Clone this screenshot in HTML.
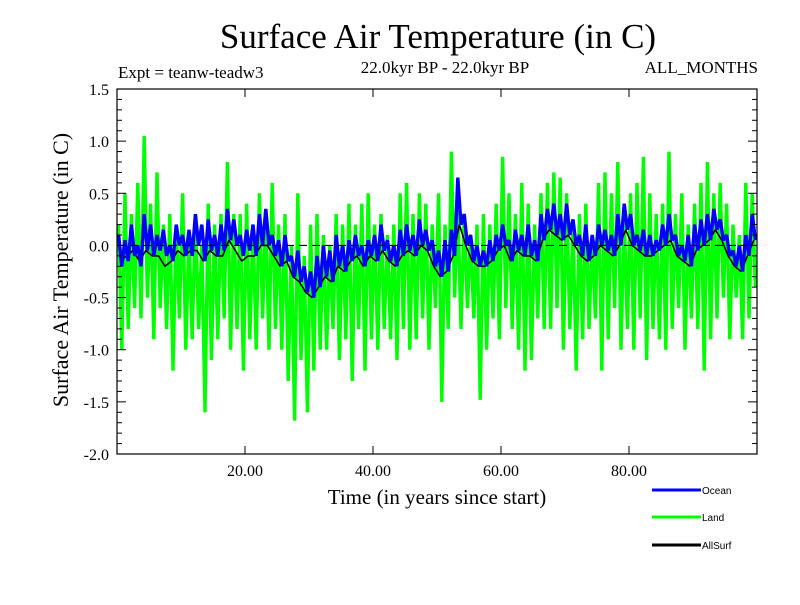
<!DOCTYPE html>
<html><head><meta charset="utf-8"><style>
body{margin:0;background:#fff}
svg text{font-family:"Liberation Serif",serif}
</style></head><body>
<svg id="chart" width="800" height="600" xmlns="http://www.w3.org/2000/svg">
<rect width="800" height="600" fill="#fff"/>
<text x="438" y="48" font-size="35" text-anchor="middle">Surface Air Temperature (in C)</text>
<text x="118" y="78" font-size="17">Expt = teanw-teadw3</text>
<text x="445" y="73" font-size="17" text-anchor="middle">22.0kyr BP - 22.0kyr BP</text>
<text x="758" y="73" font-size="17" text-anchor="end">ALL_MONTHS</text>
<g id="plot"></g>
<g id="axes"></g>
<text transform="translate(68,270) rotate(-90)" font-size="22" text-anchor="middle">Surface Air Temperature (in C)</text>
<text x="437" y="504" font-size="21" text-anchor="middle">Time (in years since start)</text>
<g>
<g><line x1="652" y1="490" x2="701" y2="490" stroke="#0000ff" stroke-width="3"/><text x="702" y="494" font-size="10" style="font-family:'Liberation Sans',sans-serif">Ocean</text></g>
<g><line x1="652" y1="517" x2="701" y2="517" stroke="#00ff00" stroke-width="3"/><text x="702" y="521" font-size="10" style="font-family:'Liberation Sans',sans-serif">Land</text></g>
<g><line x1="652" y1="545" x2="701" y2="545" stroke="#000" stroke-width="3"/><text x="702" y="549" font-size="10" style="font-family:'Liberation Sans',sans-serif">AllSurf</text></g>
</g>
</svg>
<script>
const yTickLabels=["1.5","1.0","0.5","0.0","-0.5","-1.0","-1.5","-2.0"];
const yTickValues=[1.5,1.0,0.5,0.0,-0.5,-1.0,-1.5,-2.0];
const xTickValues=[20,40,60,80];
const xTickLabels=["20.00","40.00","60.00","80.00"];
const land=[0.2,-1.0,0.5,-0.8,0.3,-0.6,0.6,-0.7,1.05,-0.5,0.4,-0.9,0.7,-0.6,0.2,-0.8,0.3,-1.2,0.2,-0.7,
0.5,-1.0,0.1,-0.9,0.3,-0.8,0.0,-1.6,0.4,-1.1,0.2,-0.9,0.3,-0.7,0.8,-1.0,0.3,-0.8,0.3,-1.2,
0.4,-0.9,0.2,-1.0,0.5,-0.7,0.3,-1.0,0.6,-0.8,0.2,-1.0,0.3,-1.3,0.0,-1.68,0.5,-1.1,-0.1,-1.6,
0.2,-1.2,0.3,-1.0,0.1,-1.0,0.0,-0.8,0.3,-1.1,0.2,-0.9,0.4,-1.3,0.2,-0.8,0.4,-1.2,0.5,-0.9,
0.2,-1.0,0.3,-0.8,0.1,-0.9,0.2,-1.1,0.5,-0.8,0.6,-1.0,0.3,-0.9,0.5,-0.7,0.4,-1.0,0.2,-0.6,
0.5,-1.5,0.2,-0.8,0.9,-0.5,0.4,-0.8,0.3,-0.6,0.1,-0.7,0.2,-1.48,0.3,-1.0,0.2,-0.7,0.4,-0.9,
0.85,-0.6,0.5,-0.8,0.3,-1.0,0.6,-1.2,0.4,-1.1,0.2,-0.7,0.5,-0.8,0.6,-0.8,0.7,-0.6,0.65,-1.0,
0.5,-0.8,0.2,-1.2,0.3,-0.9,0.4,-0.8,0.1,-0.7,0.6,-1.2,0.7,-0.9,0.5,-0.6,0.8,-1.0,0.3,-0.8,
0.5,-1.0,0.6,-0.7,0.85,-1.1,0.5,-0.8,0.3,-0.9,0.4,-1.0,0.9,-0.8,0.3,-0.6,0.5,-1.0,0.2,-0.7,
0.4,-0.8,0.6,-1.2,0.8,-0.9,0.5,-0.7,0.6,-0.5,0.4,-0.9,0.2,-0.5,0.1,-0.9,0.6,-0.7,0.5,-0.4];
const ocean=[0.1,-0.2,0.05,-0.15,0.2,-0.1,0.0,-0.2,0.3,-0.05,0.2,-0.1,0.1,-0.05,0.15,-0.1,0.0,-0.15,0.2,0.0,
0.1,-0.1,0.15,-0.1,0.3,0.0,0.2,-0.15,0.25,-0.05,0.1,-0.1,0.2,-0.05,0.35,0.05,0.25,0.0,0.1,-0.1,
0.15,-0.05,0.2,-0.1,0.3,0.0,0.35,0.0,0.1,-0.1,0.05,-0.2,0.1,-0.15,-0.1,-0.3,-0.05,-0.35,-0.2,-0.45,
-0.25,-0.5,-0.1,-0.4,0.0,-0.3,-0.05,-0.35,0.1,-0.2,0.0,-0.25,0.05,-0.15,0.1,-0.1,0.0,-0.2,0.05,-0.1,
0.1,-0.15,0.2,-0.05,0.05,-0.15,0.0,-0.2,0.15,-0.1,0.2,-0.05,0.1,-0.1,0.25,0.0,0.15,-0.05,0.05,-0.2,
-0.05,-0.3,0.05,-0.25,0.15,-0.1,0.65,0.2,0.3,0.0,0.1,-0.15,0.0,-0.2,-0.05,-0.2,0.05,-0.15,0.1,-0.05,
0.2,0.0,0.05,-0.15,0.15,-0.05,0.1,-0.1,0.2,-0.1,0.05,-0.15,0.3,0.05,0.35,0.15,0.4,0.1,0.3,0.05,
0.4,0.1,0.25,0.0,0.1,-0.1,0.2,-0.15,0.1,-0.1,0.2,0.0,0.15,-0.05,0.1,-0.1,0.3,0.0,0.4,0.15,
0.3,0.0,0.1,-0.05,0.15,-0.1,0.1,-0.1,0.05,-0.05,0.2,0.0,0.3,0.05,0.1,-0.1,0.0,-0.15,0.1,-0.2,
0.2,-0.05,0.25,0.0,0.3,0.05,0.35,0.15,0.25,0.05,0.1,-0.1,-0.05,-0.2,0.0,-0.25,0.1,-0.1,0.3,0.05];
const allsurf=[-0.15,-0.1,-0.05,-0.15,-0.05,-0.1,-0.1,-0.2,-0.15,-0.05,-0.1,-0.05,-0.05,-0.15,-0.05,-0.1,-0.1,0.05,-0.05,-0.15,
-0.1,-0.1,0.0,0.0,-0.1,-0.2,-0.15,-0.3,-0.35,-0.45,-0.5,-0.4,-0.3,-0.35,-0.2,-0.25,-0.15,-0.1,-0.2,-0.1,
-0.15,-0.05,-0.15,-0.2,-0.1,-0.05,-0.1,0.0,-0.05,-0.2,-0.3,-0.25,-0.1,0.2,0.0,-0.15,-0.2,-0.2,-0.15,-0.05,
0.0,-0.15,-0.05,-0.1,-0.1,-0.15,0.05,0.15,0.1,0.05,0.1,0.0,-0.1,-0.15,-0.1,0.0,-0.05,-0.1,0.0,0.15,
0.0,-0.05,-0.1,-0.1,-0.05,0.0,0.05,-0.1,-0.15,-0.2,-0.05,0.0,0.05,0.15,0.05,-0.1,-0.2,-0.25,-0.1,0.05];
const NS='http://www.w3.org/2000/svg';
const X0=117,X1=757,Y0=89,Y1=454,XMIN=0,XMAX=100,YMIN=-2,YMAX=1.5;
const xs=v=>X0+(v-XMIN)/(XMAX-XMIN)*(X1-X0);
const ys=v=>Y1-(v-YMIN)/(YMAX-YMIN)*(Y1-Y0);
const plot=document.getElementById('plot'),axes=document.getElementById('axes');
function mk(tag,attrs,parent){const e=document.createElementNS(NS,tag);for(const k in attrs)e.setAttribute(k,attrs[k]);parent.appendChild(e);return e;}
function series(arr,color,w,name){
  const step=(XMAX-XMIN)/arr.length;
  const pts=arr.map((v,i)=>xs(XMIN+(i+0.5)*step).toFixed(1)+','+ys(v).toFixed(1)).join(' ');
  const p=mk('polyline',{points:pts,fill:'none',stroke:color,'stroke-width':w,'stroke-linejoin':'bevel'},plot);
  
  
}
series(land,'#00ff00',3.4,'land-series');
series(allsurf,'#000000',1.6,'allsurf-series');
series(ocean,'#0000ff',3.4,'ocean-series');
const zl=mk('line',{x1:X0,x2:X1,y1:ys(0),y2:ys(0),stroke:'#000','stroke-width':1.2,'stroke-dasharray':'8,5'},plot);


const frame=mk('rect',{x:X0,y:Y0,width:X1-X0,height:Y1-Y0,fill:'none',stroke:'#000','stroke-width':1.2},axes);


for(let v=-2;v<=1.5001;v+=0.1){
  const major=Math.abs(v*2-Math.round(v*2))<1e-6;const L=major?9:5;
  mk('line',{x1:X0,x2:X0+L,y1:ys(v),y2:ys(v),stroke:'#000','stroke-width':1},axes);
  mk('line',{x1:X1,x2:X1-L,y1:ys(v),y2:ys(v),stroke:'#000','stroke-width':1},axes);
}
yTickValues.forEach((v,i)=>{
  const t=mk('text',{x:109,y:ys(v)+6,'font-size':16,'text-anchor':'end'},axes);t.textContent=yTickLabels[i];
  
  
});
xTickValues.forEach((v,i)=>{
  mk('line',{x1:xs(v),x2:xs(v),y1:Y1,y2:Y1-8,stroke:'#000','stroke-width':1},axes);
  mk('line',{x1:xs(v),x2:xs(v),y1:Y0,y2:Y0+8,stroke:'#000','stroke-width':1},axes);
  const t=mk('text',{x:xs(v),y:476,'font-size':16,'text-anchor':'middle'},axes);t.textContent=xTickLabels[i];
  
  
});
</script>
</body></html>
